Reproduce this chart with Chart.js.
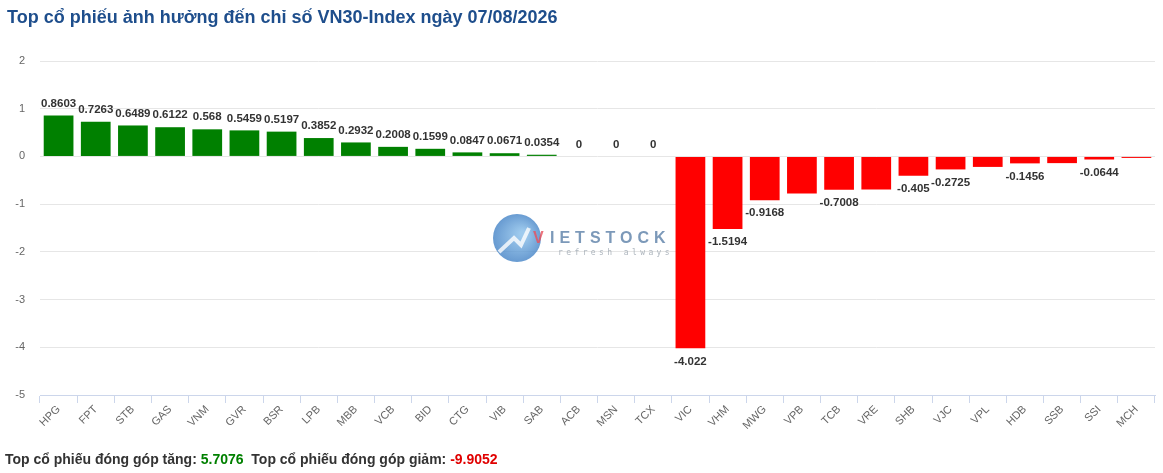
<!DOCTYPE html>
<html>
<head>
<meta charset="utf-8">
<script src="https://cdn.jsdelivr.net/npm/chart.js@4/dist/chart.umd.min.js"></script>
<style>
  html, body { margin: 0; padding: 0; background: #fff; }
  #wrap { position: relative; width: 1163px; height: 473px; overflow: hidden; }
  #title { position: absolute; left: 7px; top: 7px; font: bold 18px "Liberation Sans", Arial, sans-serif; color: #1e4e8c; white-space: nowrap; }
  #foot { position: absolute; left: 5px; top: 451px; font: bold 14px "Liberation Sans", Arial, sans-serif; color: #333; white-space: nowrap; }
  #foot .up { color: #008000; }
  #foot .down { color: #e00000; }
  canvas { position: absolute; left: 0; top: 0; }
</style>
</head>
<body>
<div id="wrap">
  <canvas id="myChart" width="1163" height="473"></canvas>
  <div id="title">Top cổ phiếu ảnh hưởng đến chỉ số VN30-Index ngày 07/08/2026</div>
  <div id="foot">Top cổ phiếu đóng góp tăng: <span class="up">5.7076</span>&nbsp;&nbsp;Top cổ phiếu đóng góp giảm: <span class="down">-9.9052</span></div>
</div>
<script>
// tickers, in chart order
var tickers = ['HPG', 'FPT', 'STB', 'GAS', 'VNM', 'GVR', 'BSR', 'LPB', 'MBB', 'VCB',
  'BID', 'CTG', 'VIB', 'SAB', 'ACB', 'MSN', 'TCX', 'VIC', 'VHM', 'MWG',
  'VPB', 'TCB', 'VRE', 'SHB', 'VJC', 'VPL', 'HDB', 'SSB', 'SSI', 'MCH'];

// contribution in index points
var impact = [0.8603, 0.7263, 0.6489, 0.6122, 0.568, 0.5459, 0.5197, 0.3852, 0.2932, 0.2008,
  0.1599, 0.0847, 0.0671, 0.0354, 0, 0, 0, -4.022, -1.5194, -0.9168,
  -0.7762, -0.7008, -0.6911, -0.405, -0.2725, -0.2198, -0.1456, -0.1404, -0.0644, -0.0312];

var yTicks = [2, 1, 0, -1, -2, -3, -4, -5];

var colors = impact.map(function (v) { return v < 0 ? '#ff0000' : '#008000'; });

// value labels, a label is skipped when it would collide with the last one drawn
var valueLabels = {
  id: 'valueLabels',
  afterDatasetsDraw: function (chart) {
    var ctx = chart.ctx;
    var meta = chart.getDatasetMeta(0);
    var ds = chart.data.datasets[0];
    ctx.save();
    ctx.font = 'bold 11.5px "Liberation Sans", Arial, sans-serif';
    ctx.fillStyle = '#333333';
    ctx.textAlign = 'center';
    ctx.textBaseline = 'middle';
    var last = null;
    meta.data.forEach(function (bar, i) {
      var v = ds.data[i];
      var txt = String(v);
      var w = ctx.measureText(txt).width;
      var y = v < 0 ? bar.y + 13 : bar.y - 12;
      if (last && Math.abs(bar.x - last.x) < (w + last.w) / 2 && Math.abs(y - last.y) < 8) return;
      ctx.fillText(txt, bar.x, y);
      last = { x: bar.x, y: y, w: w };
    });
    ctx.restore();
  }
};

// faint logo in the middle of the plot
var watermark = {
  id: 'watermark',
  beforeDatasetsDraw: function (chart) {
    var ctx = chart.ctx;
    var cx = 517, cy = 238;
    ctx.save();
    ctx.globalAlpha = 0.8;
    var g = ctx.createRadialGradient(cx + 6, cy - 4, 3, cx, cy, 25);
    g.addColorStop(0, '#86bde9');
    g.addColorStop(1, '#3f7fc4');
    ctx.fillStyle = g;
    ctx.beginPath();
    ctx.arc(cx, cy, 24, 0, Math.PI * 2);
    ctx.fill();
    ctx.strokeStyle = '#ffffff';
    ctx.lineWidth = 4;
    ctx.beginPath();
    ctx.moveTo(cx - 18, cy + 14);
    ctx.lineTo(cx - 3, cy);
    ctx.lineTo(cx + 4, cy + 7);
    ctx.lineTo(cx + 12, cy - 10);
    ctx.stroke();
    ctx.font = 'bold 16px "Liberation Sans", Arial, sans-serif';
    ctx.textBaseline = 'alphabetic';
    ctx.letterSpacing = '5px';
    ctx.fillStyle = '#e8505b';
    ctx.fillText('V', cx + 16, cy + 5);
    ctx.fillStyle = '#5b7fa8';
    ctx.fillText('IETSTOCK', cx + 33, cy + 5);
    ctx.font = '8px "DejaVu Sans Mono", monospace';
    ctx.letterSpacing = '3.4px';
    ctx.fillStyle = '#9aa4ae';
    ctx.fillText('refresh always', cx + 41, cy + 17);
    ctx.restore();
  }
};

new Chart(document.getElementById('myChart'), {
  type: 'bar',
  data: {
    labels: tickers,
    datasets: [{
      data: impact,
      backgroundColor: colors,
      barPercentage: 1,
      categoryPercentage: 0.8
    }]
  },
  options: {
    responsive: false,
    animation: false,
    layout: { padding: { top: 61, right: 8, left: 0, bottom: 0 } },
    plugins: { legend: { display: false }, tooltip: { enabled: false } },
    scales: {
      x: {
        grid: { drawOnChartArea: false, drawTicks: true, tickLength: 8, color: '#ccd6eb' },
        border: { color: '#ccd6eb' },
        ticks: {
          color: '#666666', font: { size: 11, family: '"Liberation Sans", Arial, sans-serif' },
          minRotation: 45, maxRotation: 45, autoSkip: false, padding: 0
        },
        afterFit: function (axis) { axis.height = 78; }
      },
      y: {
        min: -5, max: 2,
        afterBuildTicks: function (axis) { axis.ticks = yTicks.map(function (v) { return { value: v }; }); },
        grid: { color: '#e6e6e6', drawTicks: false },
        border: { display: false },
        ticks: { color: '#666666', padding: 15, font: { size: 11, family: '"Liberation Sans", Arial, sans-serif' } },
        afterFit: function (axis) { axis.width = 40; }
      }
    }
  },
  plugins: [watermark, valueLabels]
});
</script>
</body>
</html>
